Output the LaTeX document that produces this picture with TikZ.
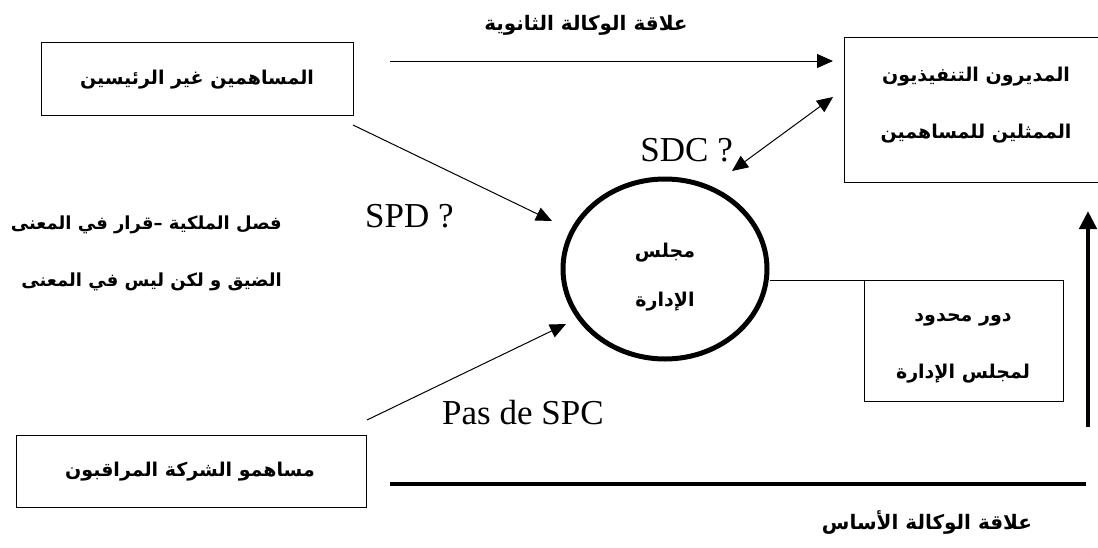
\documentclass[tikz,border=0pt]{standalone}
\usepackage{fontspec}
\setmainfont{Liberation Serif}
\newfontfamily\arabicfont[Script=Arabic]{DejaVu Sans}
\TeXXeTstate=1
\usetikzlibrary{arrows.meta,shapes.geometric}
\tikzset{
  ar/.style={font=\arabicfont\bfseries\fontsize{19}{57}\selectfont, inner sep=0pt},
  lat/.style={font=\fontsize{35}{40}\selectfont, inner sep=0pt},
  boxnode/.style={draw, line width=1pt},
  thin arrow/.style={line width=1pt, -{Triangle[length=16pt,width=14pt]}},
  both arrow/.style={line width=1pt, {Triangle[length=16pt,width=14pt]}-{Triangle[length=16pt,width=14pt]}},
  thick arrow/.style={line width=4.5pt, -{Triangle[length=18pt,width=17pt]}},
}
\begin{document}
\begin{tikzpicture}[x=1pt,y=-1pt]
\useasboundingbox (0,0) rectangle (1098,547);
% boxes
\draw[boxnode] (41,42) rectangle (353,115);
\node[ar] (A) at (197,80) {\beginR المساهمين غير الرئيسين\endR};
\draw[boxnode] (1110,37) -- (844,37) -- (844,182) -- (1110,182);
\node[ar, align=center] (B) at (976,105) {\beginR المديرون التنفيذيون\endR\\\beginR الممثلين للمساهمين\endR};
\coordinate (Bw) at (844,61);
\draw[boxnode] (864,280) rectangle (1063,401);
\node[ar, align=center] (C) at (963,348) {\beginR دور محدود\endR\\\beginR لمجلس الإدارة\endR};
\coordinate (Cnw) at (864,280);
\draw[boxnode] (16,435) rectangle (366,507);
\node[ar] (D) at (190,472) {\beginR مساهمو الشركة المراقبون\endR};
% circle
\node[draw, ellipse, line width=5pt, minimum width=204pt, minimum height=180pt] (E) at (665,269) {};
\node[ar, align=center, font=\arabicfont\bfseries\fontsize{19}{49}\selectfont] (Et) at (665,277) {\beginR مجلس\endR\\\beginR الإدارة\endR};
% labels
\node[ar, font=\arabicfont\bfseries\fontsize{20}{24}\selectfont] (T1) at (586,25) {\beginR علاقة الوكالة الثانوية\endR};
\node[ar, font=\arabicfont\bfseries\fontsize{20}{24}\selectfont] (T2) at (927,522) {\beginR علاقة الوكالة الأساس\endR};
\node[ar, align=right, anchor=east, font=\arabicfont\bfseries\fontsize{18}{57}\selectfont] (L) at (282,253) {\beginR فصل الملكية –قرار في المعنى\endR\\\beginR الضيق و لكن ليس في المعنى\endR};
\node[lat, anchor=west] (SPD) at (365,216) {SPD ?};
\node[lat, anchor=east] (SDC) at (733,150) {SDC ?};
\node[lat, anchor=west] (SPC) at (442,413) {Pas de SPC};
% connectors
\coordinate (a0) at (390,61);
\draw[thin arrow, shorten >=11pt] (a0) -- (Bw);
\coordinate (s1) at (353,125);
\coordinate (s2) at (552,221);
\draw[thin arrow] (s1) -- (s2);
\coordinate (p1) at (367,420);
\coordinate (p2) at (566,324);
\draw[thin arrow] (p1) -- (p2);
\coordinate (d1) at (833,97);
\coordinate (d2) at (732,171);
\draw[both arrow] (d2) -- (d1);
\draw[line width=1pt] (E.east |- Cnw) -- (Cnw);
\coordinate (v1) at (1088,427);
\coordinate (v2) at (1088,211);
\draw[thick arrow] (v1) -- (v2);
\coordinate (h1) at (390,484);
\coordinate (h2) at (1086,484);
\draw[line width=4.5pt] (h1) -- (h2);
\end{tikzpicture}
\end{document}
